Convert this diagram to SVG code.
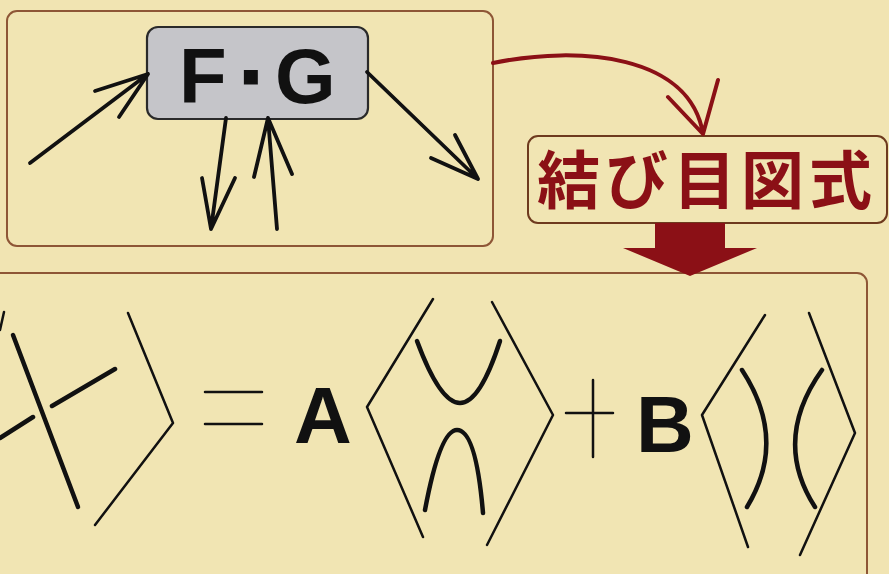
<svg xmlns="http://www.w3.org/2000/svg" width="889" height="574" viewBox="0 0 889 574">
  <style>
    .panel { fill: #f1e5b3; stroke: #8e5636; stroke-width: 2; }
    .ink { fill: none; stroke: #111; stroke-linecap: round; stroke-linejoin: round; }
    .arrow { stroke-width: 3.8; }
    .frame { stroke-width: 2.5; }
    .strand { stroke-width: 4.5; }
    .latin { font-family: "Liberation Sans", Arial, sans-serif; font-weight: bold; fill: #111; }
    .red { fill: #8b1016; }
  </style>

  <rect x="0" y="0" width="889" height="574" fill="#f1e4b2"/>

  <!-- upper panel: the F·G vertex with its legs -->
  <g id="vertex-panel">
    <rect class="panel" x="7" y="11" width="486" height="235" rx="10"/>
  </g>

  <g id="fg-node">
    <rect x="147" y="27" width="221" height="92" rx="11" fill="#c5c5c9" stroke="#2a2a2a" stroke-width="2.2"/>
    <text class="latin" y="103" font-size="78"><tspan x="179">F</tspan><tspan x="240" stroke="#111" stroke-width="3">·</tspan><tspan x="275">G</tspan></text>
  </g>

  <!-- label box -->
  <g id="diagram-label">
    <rect x="528" y="136" width="359" height="87" rx="10" fill="#f1e5b3" stroke="#6e3a1e" stroke-width="2"/>
    <text x="707" y="203" text-anchor="middle" font-size="63" letter-spacing="5" font-weight="bold" class="red" font-family="'Noto Sans CJK JP', 'Noto Sans CJK SC', sans-serif">結び目図式</text>
  </g>

  <!-- lower panel: skein relation -->
  <g id="skein-panel">
    <rect class="panel" x="-20" y="273" width="887" height="330" rx="10"/>
  </g>

  <g id="connectors">
    <!-- legs of the vertex -->
    <g class="ink arrow">
      <path d="M30,163 L148,74 M95,91 L148,74 L119,117"/>
      <path d="M226,118 L211,229 M202,178 L211,229 L235,178"/>
      <path d="M277,229 L268,118 M254,177 L268,118 L292,174"/>
      <path d="M367,72 L478,179 M431,158 L478,179 L455,135"/>
    </g>
    <!-- curved arrow to the label -->
    <path d="M493,63 C580,45 690,55 703,134 M668,97 L703,134 L718,80" fill="none" stroke="#8b1016" stroke-width="4" stroke-linecap="round" stroke-linejoin="round"/>
    <!-- block arrow down to the relation -->
    <polygon points="655,223 725,223 725,248 757,248 690,276 623,248 655,248" fill="#8b1016"/>
  </g>

  <!-- crossing diagram -->
  <g id="crossing" class="ink">
    <path class="frame" d="M0,330 L4,312"/>
    <path class="strand" d="M13,335 L78,507"/>
    <path class="strand" d="M0,438 L33,417 M52,406 L115,369"/>
    <path class="frame" d="M128,313 L173,423 L95,525"/>
  </g>

  <g id="equals" class="ink">
    <path class="frame" d="M205,392 L262,392 M205,424 L262,424"/>
  </g>

  <g id="coef-a">
    <text class="latin" x="294" y="443" font-size="80">A</text>
  </g>

  <!-- smoothing: horizontal -->
  <g id="smoothing-a" class="ink">
    <path class="frame" d="M433,299 L367,407 L423,537"/>
    <path class="frame" d="M492,302 L553,415 L487,545"/>
    <path class="strand" d="M417,341 Q440,403 460,403 Q480,403 500,341"/>
    <path class="strand" d="M425,510 Q440,430 457,430 Q476,430 483,513"/>
  </g>

  <g id="plus" class="ink">
    <path class="frame" d="M593,380 L593,457 M566,413 L613,413"/>
  </g>

  <g id="coef-b">
    <text class="latin" x="636" y="452" font-size="80">B</text>
  </g>

  <!-- smoothing: vertical -->
  <g id="smoothing-b" class="ink">
    <path class="frame" d="M765,315 L702,415 L748,547"/>
    <path class="frame" d="M809,313 L855,433 L800,555"/>
    <path class="strand" d="M742,370 Q788,440 747,507"/>
    <path class="strand" d="M822,370 Q772,440 815,507"/>
  </g>
</svg>
